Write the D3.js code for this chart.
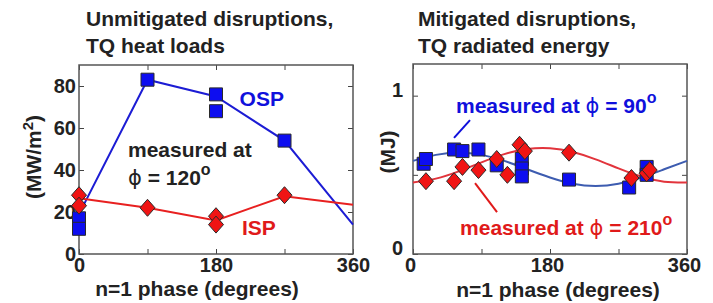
<!DOCTYPE html>
<html>
<head>
<meta charset="utf-8">
<script src="https://cdn.jsdelivr.net/npm/d3@7"></script>
<style>
  body { margin: 0; background: #fff; }
  text { font-family: "Liberation Sans", Arial, sans-serif; font-weight: bold; fill: #222; }
</style>
</head>
<body>
<div id="chart"></div>
<script>
// n=1 phase ticks, shared by both panels
var phaseTicks = [0, 90, 180, 270, 360];
var phaseLabels = [0, 180, 360];

// left panel: unmitigated, TQ heat loads (MW/m2)
var heatTicks = [0, 20, 40, 60, 80];
var ospPhase = [0, 0, 90, 180, 180, 270];
var ospLoad = [17, 12, 83, 76, 68, 54];
var ospLinePhase = [0, 90, 180, 270, 360];
var ospLineLoad = [19, 83, 75, 54, 14];
var ispPhase = [0, 0, 90, 180, 180, 270];
var ispLoad = [28, 23, 22, 18, 14, 28];
var ispLinePhase = [0, 90, 180, 270, 360];
var ispLineLoad = [26.5, 22, 16, 27.5, 23.5];

// right panel: mitigated, TQ radiated energy (MJ)
var energyTicks = [0, 0.5, 1];
var energyLabels = [0, 1];
var at90Phase = [14, 17, 54, 65, 86, 110, 143, 143, 143, 205, 284, 307, 307];
var at90Energy = [0.57, 0.60, 0.66, 0.65, 0.66, 0.56, 0.60, 0.54, 0.49, 0.47, 0.42, 0.55, 0.50];
var at210Phase = [17, 54, 65, 86, 110, 124, 140, 147, 205, 287, 307, 311];
var at210Energy = [0.46, 0.46, 0.55, 0.53, 0.60, 0.50, 0.69, 0.65, 0.64, 0.48, 0.51, 0.53];
var fitPhase = [0, 30, 60, 90, 120, 150, 180, 210, 240, 270, 300, 330, 360];
var fit90 = [0.588, 0.626, 0.640, 0.626, 0.588, 0.535, 0.483, 0.444, 0.430, 0.444, 0.483, 0.535, 0.588];
var fit210 = [0.452, 0.476, 0.522, 0.579, 0.631, 0.663, 0.668, 0.644, 0.598, 0.541, 0.489, 0.457, 0.452];

var blue = "#0d0df0", red = "#f01414";
var W = 713, H = 303;

var svg = d3.select("#chart").append("svg")
    .attr("width", W)
    .attr("height", H);

var squarePath = "M-6.5,-6.5H6.5V6.5H-6.5Z";
var diamondPath = "M0,-8.5L7.5,0L0,8.5L-7.5,0Z";

function zip(a, b) {
    return a.map(function(d, i) { return [d, b[i]]; });
}

// draws the frame, mirrored inward ticks and labels of one panel
function frame(x, y, yTicks, yLabels, yPad, yShift, xShift) {
    var x0 = x.range()[0], x1 = x.range()[1];
    var y0 = y.range()[0], y1 = y.range()[1];
    var g = svg.append("g");

    var fmtX = function(d) { return phaseLabels.indexOf(d) >= 0 ? d : ""; };
    var fmtY = function(d) { return yLabels.indexOf(d) >= 0 ? d : ""; };

    g.append("g").attr("class", "xl").attr("transform", "translate(0," + y0 + ")")
        .call(d3.axisBottom(x).tickValues(phaseTicks).tickSizeInner(-5).tickSizeOuter(0).tickPadding(4).tickFormat(fmtX));
    g.append("g").attr("transform", "translate(0," + y1 + ")")
        .call(d3.axisTop(x).tickValues(phaseTicks).tickSizeInner(-5).tickSizeOuter(0).tickFormat(""));
    g.append("g").attr("class", "yl").attr("transform", "translate(" + x0 + ",0)")
        .call(d3.axisLeft(y).tickValues(yTicks).tickSizeInner(-5).tickSizeOuter(0).tickPadding(yPad).tickFormat(fmtY));
    g.append("g").attr("transform", "translate(" + x1 + ",0)")
        .call(d3.axisRight(y).tickValues(yTicks).tickSizeInner(-5).tickSizeOuter(0).tickFormat(""));

    g.selectAll(".domain").remove();
    g.selectAll(".tick line").attr("stroke", "#444");
    g.selectAll(".tick text")
        .style("font-size", "20px")
        .style("font-family", "'Liberation Sans', Arial, sans-serif")
        .style("font-weight", "bold")
        .attr("fill", "#222");
    g.selectAll(".yl .tick text").attr("dy", (0.32 + yShift) + "em");
    g.selectAll(".xl .tick text").attr("dx", xShift);

    g.append("rect")
        .attr("x", x0).attr("y", y1)
        .attr("width", x1 - x0).attr("height", y0 - y1)
        .attr("fill", "none")
        .attr("stroke", "#555")
        .attr("stroke-width", 1.5);
}

function title(xp, lines) {
    svg.append("text")
        .attr("x", xp).attr("y", 26)
        .style("font-size", "21px")
        .text(lines[0]);
    svg.append("text")
        .attr("x", xp).attr("y", 53)
        .style("font-size", "21px")
        .text(lines[1]);
}

function markers(shape, pts, x, y, fill) {
    svg.append("g").selectAll("path")
        .data(pts)
        .enter().append("path")
        .attr("d", shape)
        .attr("transform", function(d) { return "translate(" + x(d[0]) + "," + y(d[1]) + ")"; })
        .attr("fill", fill)
        .attr("stroke", "#2a2a2a")
        .attr("stroke-width", 1);
}

function phiText(xp, yp, pre, post, color) {
    var t = svg.append("text")
        .attr("x", xp).attr("y", yp)
        .style("font-size", "21px")
        .style("fill", color);
    t.append("tspan").text(pre);
    t.append("tspan").style("font-family", "'DejaVu Sans'").style("font-weight", "normal").text("\u03D5");
    t.append("tspan").text(post);
    t.append("tspan").attr("dy", -10).style("font-size", "16px").text("o");
    return t;
}

// ---- left panel ----
var xL = d3.scaleLinear().domain([0, 360]).range([79, 353]);
var yL = d3.scaleLinear().domain([0, 90]).range([254, 65]);

title(86, ["Unmitigated disruptions,", "TQ heat loads"]);
frame(xL, yL, heatTicks, heatTicks, 3, 0, 0);

var lineL = d3.line()
    .x(function(d) { return xL(d[0]); })
    .y(function(d) { return yL(d[1]); });

svg.append("path")
    .attr("d", lineL(zip(ospLinePhase, ospLineLoad)))
    .attr("fill", "none").attr("stroke", "#1c1cd4").attr("stroke-width", 2);
svg.append("path")
    .attr("d", lineL(zip(ispLinePhase, ispLineLoad)))
    .attr("fill", "none").attr("stroke", "#e82020").attr("stroke-width", 2);

markers(squarePath, zip(ospPhase, ospLoad), xL, yL, blue);
markers(diamondPath, zip(ispPhase, ispLoad), xL, yL, red);

svg.append("text").attr("x", xL(211)).attr("y", yL(70.5))
    .style("font-size", "21px").style("fill", "#1010dc").text("OSP");
svg.append("text").attr("x", xL(214)).attr("y", yL(9))
    .style("font-size", "21px").style("fill", "#e01a1a").text("ISP");
svg.append("text").attr("x", xL(64.4)).attr("y", yL(46.2))
    .style("font-size", "21px").text("measured at");
phiText(xL(64.4), yL(32.9), "", " = 120", "#222");

svg.append("text")
    .attr("transform", "translate(41,157) rotate(-90)")
    .attr("text-anchor", "middle")
    .style("font-size", "21px")
    .call(function(t) {
        t.append("tspan").text("(MW/m");
        t.append("tspan").attr("dy", -8).style("font-size", "15px").text("2");
        t.append("tspan").attr("dy", 8).text(")");
    });
svg.append("text")
    .attr("x", 197).attr("y", 296)
    .attr("text-anchor", "middle")
    .style("font-size", "21px")
    .text("n=1 phase (degrees)");

// ---- right panel ----
var xR = d3.scaleLinear().domain([0, 360]).range([413, 687]);
var yR = d3.scaleLinear().domain([0, 1.2]).range([254, 64]);

title(418, ["Mitigated disruptions,", "TQ radiated energy"]);
frame(xR, yR, energyTicks, energyLabels, 10, -0.3, -3);

var fitLine = d3.line()
    .curve(d3.curveNatural)
    .x(function(d) { return xR(d[0]); })
    .y(function(d) { return yR(d[1]); });

svg.append("path")
    .attr("d", fitLine(zip(fitPhase, fit90)))
    .attr("fill", "none").attr("stroke", "#3d5cb0").attr("stroke-width", 2);
svg.append("path")
    .attr("d", fitLine(zip(fitPhase, fit210)))
    .attr("fill", "none").attr("stroke", "#e2343c").attr("stroke-width", 2);

markers(squarePath, zip(at90Phase, at90Energy), xR, yR, blue);
markers(diamondPath, zip(at210Phase, at210Energy), xR, yR, red);

// annotations with leader lines
svg.append("line")
    .attr("x1", xR(74.9)).attr("y1", yR(0.846))
    .attr("x2", xR(53.9)).attr("y2", yR(0.733))
    .attr("stroke", "#1010dc").attr("stroke-width", 2);
phiText(xR(56.5), yR(0.89), "measured at ", " = 90", "#1010dc");

svg.append("line")
    .attr("x1", xR(81.5)).attr("y1", yR(0.448))
    .attr("x2", xR(110.4)).attr("y2", yR(0.265))
    .attr("stroke", "#e01a1a").attr("stroke-width", 2);
phiText(xR(61.8), yR(0.12), "measured at ", " = 210", "#e01a1a");

svg.append("text")
    .attr("transform", "translate(395,152) rotate(-90)")
    .attr("text-anchor", "middle")
    .style("font-size", "21px")
    .text("(MJ)");
svg.append("text")
    .attr("x", 558).attr("y", 297)
    .attr("text-anchor", "middle")
    .style("font-size", "21px")
    .text("n=1 phase (degrees)");
</script>
</body>
</html>
